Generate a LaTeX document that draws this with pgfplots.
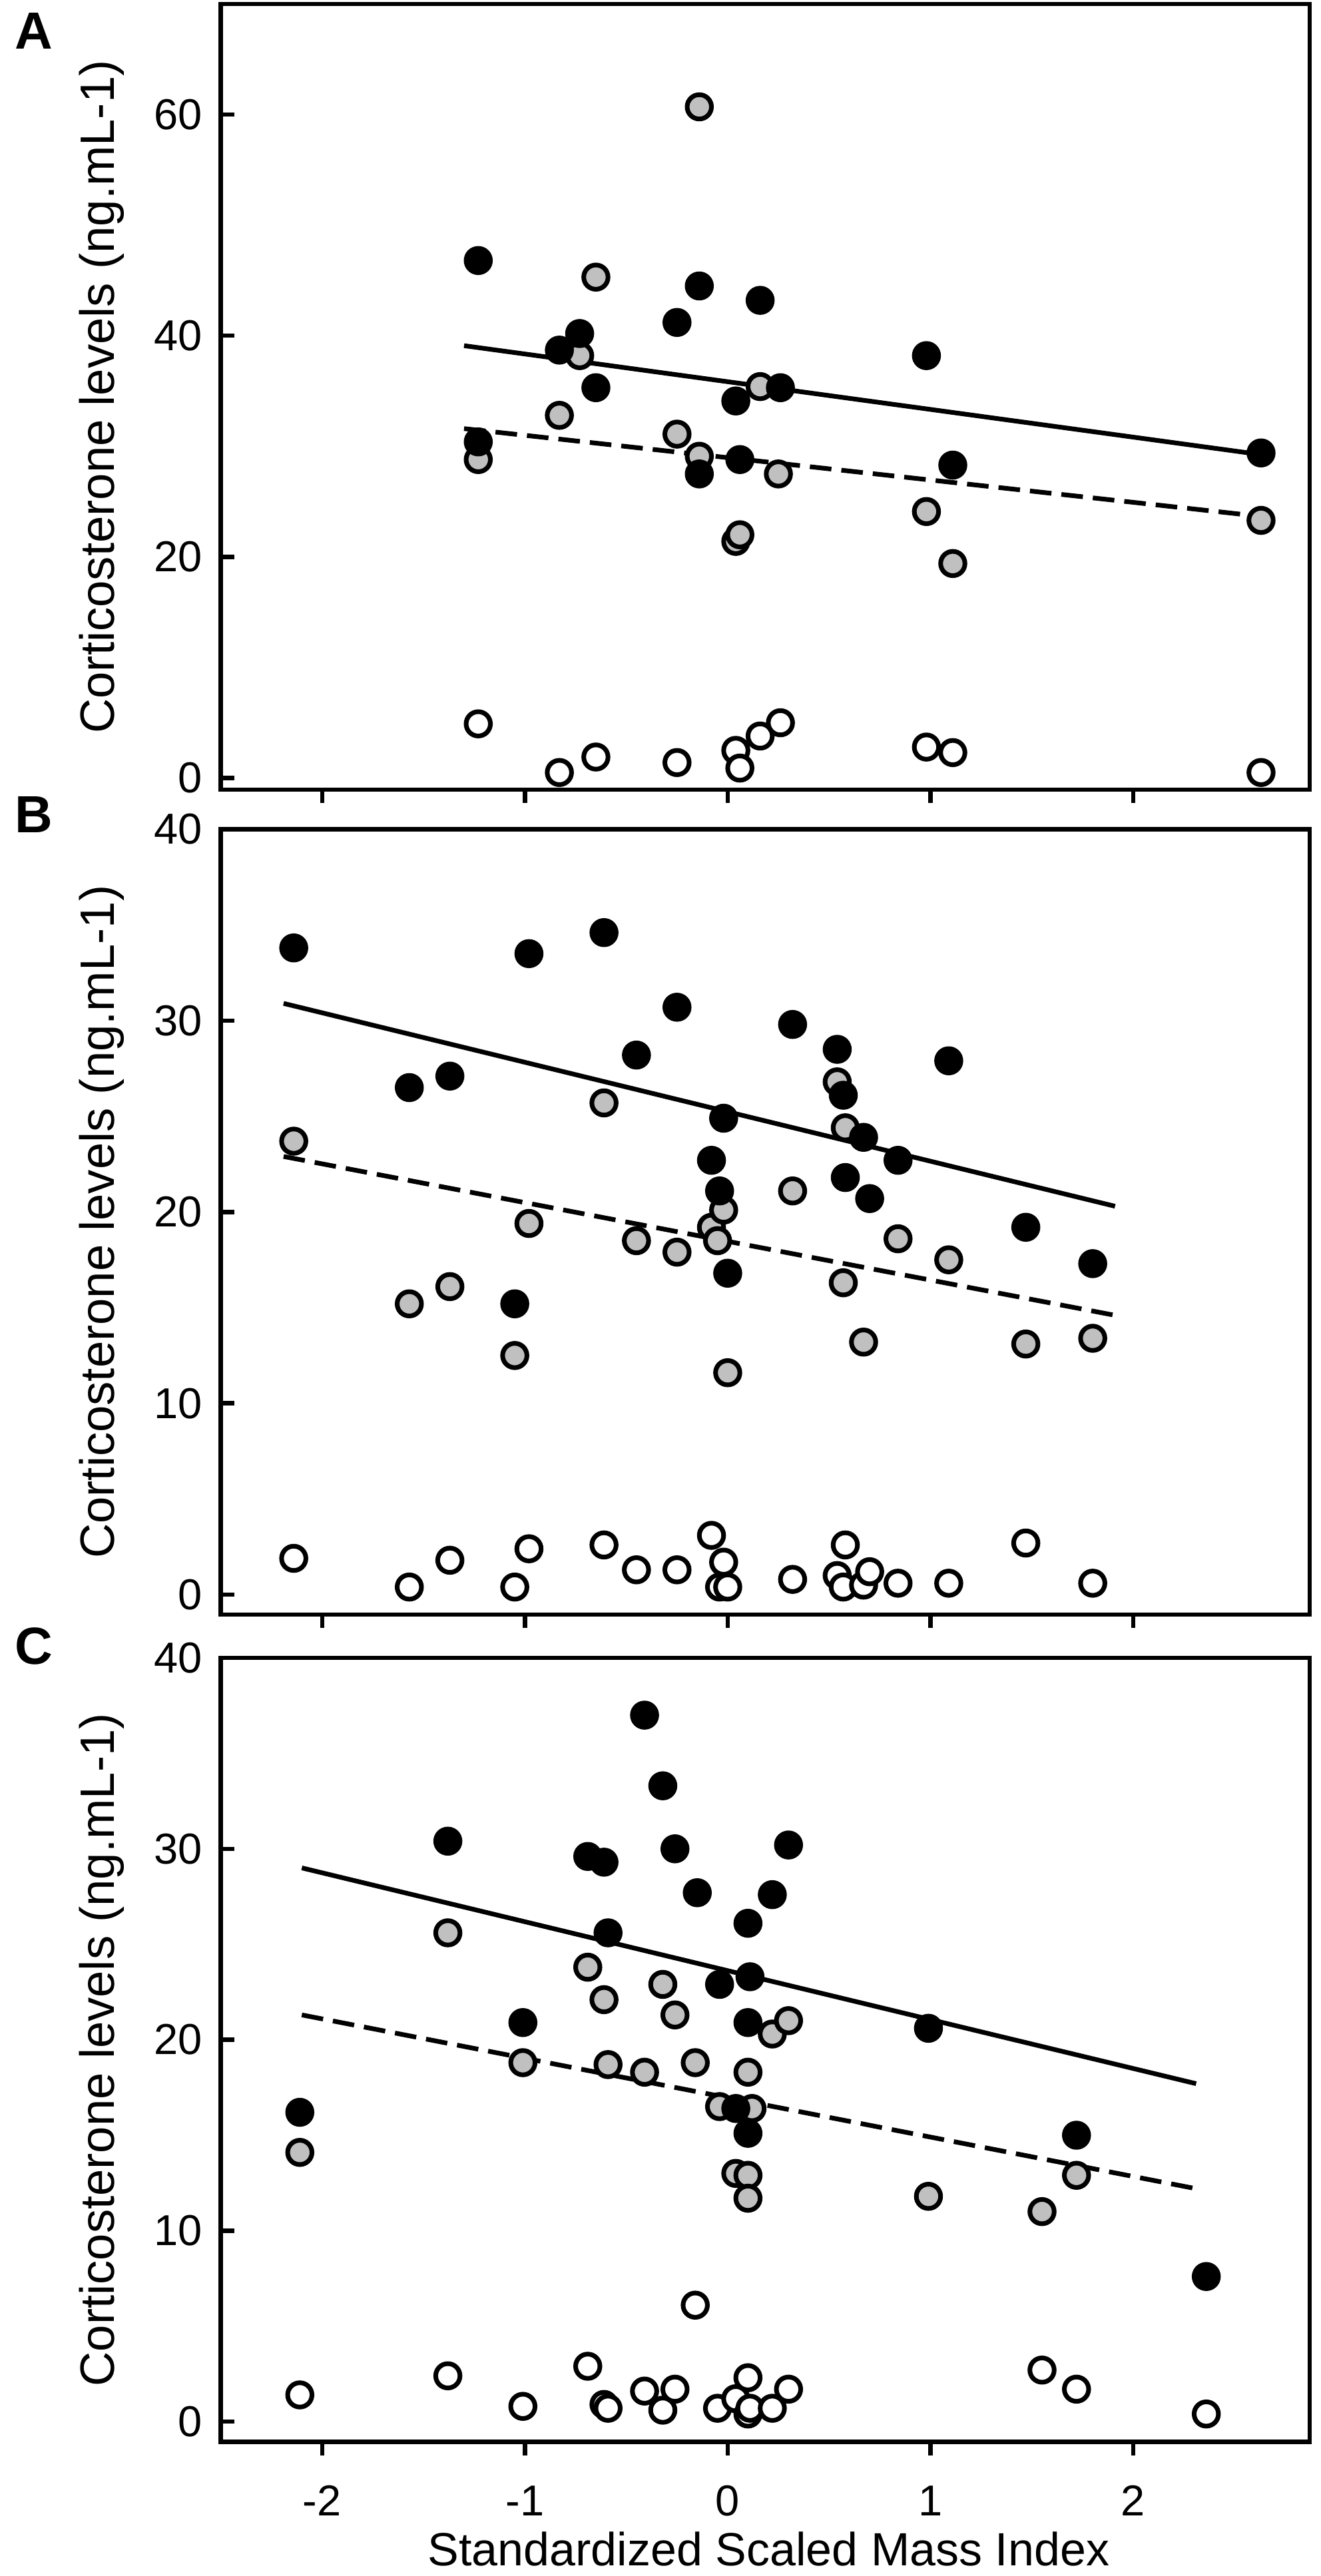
\documentclass[border=0pt]{standalone}
\usepackage{fontspec}
\setmainfont{Liberation Sans}
\usepackage{pgfplots}
\pgfplotsset{compat=1.18}
\definecolor{ptgray}{RGB}{192,192,192}
\newcommand\tickfont{\fontsize{13}{15}\selectfont}
\newcommand\labfont{\fontsize{14.5}{17}\selectfont}
\newcommand\xlabfont{\fontsize{14}{16}\selectfont}
\newcommand\panfont{\fontsize{15.7}{18}\selectfont\bfseries}
\pgfplotsset{
  panel/.style={
    scale only axis, width=327.1pt,
    xmin=-2.5, xmax=2.87,
    xtick={-2,-1,0,1,2},
    xtick pos=bottom, ytick pos=left,
    xtick align=outside, ytick align=inside,
    major tick length=4pt,
    axis line style={line width=1.3pt},
    every tick/.style={line width=1.3pt, black},
    /pgf/number format/assume math mode=true,
    tick label style={font=\tickfont},
    yticklabel style={anchor=east, xshift=-2pt},
    ylabel={Corticosterone levels (ng.mL-1)},
    ylabel style={font=\labfont, at={(axis description cs:-0.098,0.5)}, anchor=base},
    clip=false,
  },
  blk/.style={only marks, mark=*, mark size=3.65pt, mark options={draw=black, fill=black, line width=1.4pt}},
  gry/.style={only marks, mark=*, mark size=3.65pt, mark options={draw=black, fill=ptgray, line width=1.4pt}},
  opn/.style={only marks, mark=*, mark size=3.65pt, mark options={draw=black, fill=white, line width=1.4pt}},
  sol/.style={no marks, black, line width=1.4pt},
  dsh/.style={no marks, black, line width=1.4pt, dash pattern=on 6.5pt off 3pt},
}
\begin{document}
\begin{tikzpicture}
\path[use as bounding box] (0,0) rectangle (396.6pt,-773.8pt);
% ---------------- A ----------------
\begin{axis}[panel, at={(66.3pt,-1.2pt)}, anchor=north west, height=236.0pt,
  ymin=-1.05, ymax=70, ytick={0,20,40,60}, xticklabels={}]
\addplot[opn] coordinates {(-1.23,4.9) (-0.83,0.5) (-0.65,1.9) (-0.25,1.4) (0.04,2.5) (0.06,0.9) (0.16,3.8) (0.26,5.0) (0.98,2.8) (1.11,2.3) (2.63,0.5)};
\addplot[gry] coordinates {(-1.23,28.8) (-0.65,45.3) (-0.83,32.8) (-0.73,38.2) (-0.25,31.1) (-0.14,60.7) (-0.14,29.1) (0.04,21.4) (0.06,22.0) (0.16,35.4) (0.25,27.5) (0.98,24.1) (1.11,19.4) (2.63,23.3)};
\addplot[blk] coordinates {(-1.23,46.8) (-1.23,30.4) (-0.83,38.7) (-0.73,40.2) (-0.65,35.3) (-0.25,41.2) (-0.14,44.5) (-0.14,27.5) (0.04,34.1) (0.06,28.8) (0.16,43.2) (0.26,35.3) (0.98,38.2) (1.11,28.3) (2.63,29.4)};
\addplot[sol] coordinates {(-1.30,39.1) (2.61,29.3)};
\addplot[dsh] coordinates {(-1.30,31.6) (2.61,23.7)};
\end{axis}
% ---------------- B ----------------
\begin{axis}[panel, at={(66.3pt,-249.1pt)}, anchor=north west, height=235.9pt,
  ymin=-1.04, ymax=40, ytick={0,10,20,30,40}, xticklabels={}]
\addplot[opn] coordinates {(-2.14,1.9) (-1.57,0.4) (-1.37,1.8) (-1.05,0.4) (-0.98,2.4) (-0.61,2.6) (-0.45,1.3) (-0.25,1.3) (-0.08,3.1) (-0.02,1.7) (-0.04,0.4) (0.00,0.4) (0.32,0.8) (0.54,1.0) (0.57,0.4) (0.58,2.6) (0.67,0.5) (0.70,1.2) (0.84,0.6) (1.09,0.6) (1.47,2.7) (1.80,0.6)};
\addplot[gry] coordinates {(-2.14,23.7) (-1.57,15.2) (-1.37,16.1) (-1.05,12.5) (-0.98,19.4) (-0.61,25.7) (-0.45,18.5) (-0.25,17.9) (-0.08,19.2) (-0.05,18.5) (-0.02,20.1) (0.00,11.6) (0.32,21.1) (0.54,26.8) (0.57,16.3) (0.58,24.4) (0.67,13.2) (0.84,18.6) (1.09,17.5) (1.47,13.1) (1.80,13.4)};
\addplot[blk] coordinates {(-2.14,33.8) (-1.57,26.5) (-1.37,27.1) (-1.05,15.2) (-0.98,33.5) (-0.61,34.6) (-0.45,28.2) (-0.25,30.7) (-0.08,22.7) (-0.04,21.1) (-0.02,24.9) (0.00,16.8) (0.32,29.8) (0.54,28.5) (0.57,26.1) (0.58,21.8) (0.67,23.9) (0.70,20.7) (0.84,22.7) (1.09,27.9) (1.47,19.2) (1.80,17.3)};
\addplot[sol] coordinates {(-2.19,30.9) (1.91,20.3)};
\addplot[dsh] coordinates {(-2.19,22.9) (1.91,14.6)};
\end{axis}
% ---------------- C ----------------
\begin{axis}[panel, at={(66.3pt,-498.0pt)}, anchor=north west, height=235.5pt,
  ymin=-1.06, ymax=40, ytick={0,10,20,30,40},
  xticklabel style={anchor=base, yshift=-18.2pt}]
\addplot[opn] coordinates {(-2.11,1.4) (-1.38,2.4) (-1.01,0.8) (-0.69,2.9) (-0.61,0.9) (-0.59,0.7) (-0.41,1.6) (-0.32,0.6) (-0.26,1.7) (-0.16,6.1) (-0.05,0.7) (0.04,1.2) (0.10,2.3) (0.10,0.4) (0.11,0.7) (0.22,0.7) (0.30,1.7) (1.55,2.7) (1.72,1.7) (2.36,0.4)};
\addplot[gry] coordinates {(-2.11,14.1) (-1.38,25.6) (-1.01,18.8) (-0.69,23.8) (-0.61,22.1) (-0.59,18.7) (-0.41,18.3) (-0.32,22.9) (-0.26,21.3) (-0.16,18.8) (-0.04,16.5) (0.12,16.4) (0.04,13.0) (0.10,12.9) (0.10,11.7) (0.10,18.3) (0.22,20.3) (0.30,21.0) (0.99,11.8) (1.55,11.0) (1.72,12.9)};
\addplot[blk] coordinates {(-2.11,16.2) (-1.38,30.4) (-1.01,20.9) (-0.69,29.6) (-0.61,29.3) (-0.59,25.6) (-0.41,37.0) (-0.32,33.3) (-0.26,30.0) (-0.15,27.7) (-0.04,22.9) (0.04,16.4) (0.10,26.1) (0.11,23.3) (0.10,20.9) (0.10,15.1) (0.22,27.6) (0.30,30.2) (0.99,20.6) (1.72,15.0) (2.36,7.6)};
\addplot[sol] coordinates {(-2.10,29.0) (2.31,17.7)};
\addplot[dsh] coordinates {(-2.10,21.3) (2.31,12.2)};
\end{axis}
\node[font=\xlabfont, anchor=base, inner sep=0pt] at (230.9pt,-770.6pt) {Standardized Scaled Mass Index};
\node[font=\panfont, anchor=base west, inner sep=0pt] at (4.2pt,-14.6pt) {A};
\node[font=\panfont, anchor=base west, inner sep=0pt] at (4.2pt,-250.0pt) {B};
\node[font=\panfont, anchor=base west, inner sep=0pt] at (4.2pt,-499.8pt) {C};
\end{tikzpicture}
\end{document}
